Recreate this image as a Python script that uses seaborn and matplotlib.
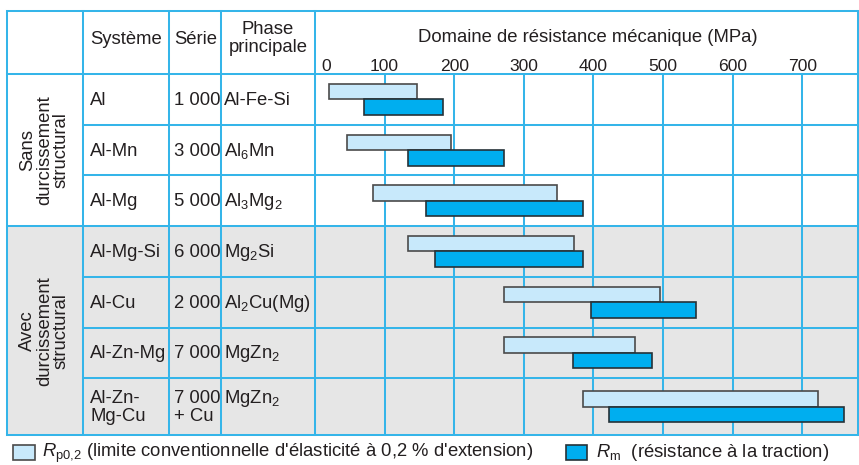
import numpy as np
import pandas as pd
import matplotlib
matplotlib.use("Agg")
import matplotlib.pyplot as plt
import seaborn as sns
from matplotlib.patches import Rectangle
from matplotlib.transforms import ScaledTranslation

# ---------------- data ----------------
systems = ["Al", "Al-Mn", "Al-Mg", "Al-Mg-Si", "Al-Cu", "Al-Zn-Mg", "Al-Zn-\nMg-Cu"]
series = ["1 000", "3 000", "5 000", "6 000", "2 000", "7 000", "7 000\n+ Cu"]
phases = ["Al-Fe-Si",
          r"Al$_\mathregular{6}$Mn",
          r"Al$_\mathregular{3}$Mg$_\mathregular{2}$",
          r"Mg$_\mathregular{2}$Si",
          r"Al$_\mathregular{2}$Cu(Mg)",
          r"MgZn$_\mathregular{2}$",
          r"MgZn$_\mathregular{2}$"]
groups = ["Sans\ndurcissement\nstructural", "Avec\ndurcissement\nstructural"]
group_sizes = [3, 4]
rp_min = [20, 46, 84, 134, 272, 272, 385]
rp_max = [146, 196, 347, 372, 496, 459, 722]
rm_min = [71, 134, 159, 172, 396, 371, 423]
rm_max = [184, 272, 385, 385, 547, 484, 760]
ticks = [0, 100, 200, 300, 400, 500, 600, 700]
headers = ["Système", "Série", "Phase\nprincipale"]
axis_title = "Domaine de résistance mécanique (MPa)"
legend_labels = [r"$\mathit{R}_\mathregular{p0{,}2}$ (limite conventionnelle d'élasticité à 0,2 % d'extension)",
                 r"$\mathit{R}_\mathregular{m}$  (résistance à la traction)"]

# ---------------- style ----------------
sns.set_theme(style="white")
plt.rcParams['font.family'] = ['Liberation Sans', 'DejaVu Sans']
plt.rcParams['mathtext.fontset'] = 'custom'
plt.rcParams['mathtext.rm'] = 'Liberation Sans'
plt.rcParams['mathtext.it'] = 'Liberation Sans:italic'
plt.rcParams['mathtext.bf'] = 'Liberation Sans:bold'

TXT = '#231f20'
LINE = '#35b5e9'
GRAY = '#e6e6e6'
RP_FILL, RP_EDGE = '#c8e9fb', '#4a4a4a'
RM_FILL, RM_EDGE = '#00aeef', '#263238'
FS = 13.3
LW = 1.45

W, H = 859, 465
X_LEFT, X_C1, X_C2, X_C3, X_PLOT, X_RIGHT = 7.3, 83, 169.3, 221.3, 315, 858
Y_TOP, Y_HEAD = 11, 74
ROW_H, ROW_H2 = 50.7, 57.0
XMAX = 780

row_heights = [ROW_H2 if "\n" in s else ROW_H for s in systems]
edges = Y_HEAD + np.concatenate([[0], np.cumsum(row_heights)])
centers = (edges[:-1] + edges[1:]) / 2
Y_BOT = edges[-1]

fig = plt.figure(figsize=(W / 100, H / 100), dpi=100)
fig.patch.set_facecolor('white')

# overlay axes in pixel coordinates for the table part
ov = fig.add_axes([0, 0, 1, 1], zorder=0)
ov.set_xlim(0, W)
ov.set_ylim(H, 0)
ov.axis('off')

# group shading + group labels
gstart = 0
for gi, n in enumerate(group_sizes):
    y0, y1 = edges[gstart], edges[gstart + n]
    if gi == 1:
        ov.add_patch(Rectangle((X_LEFT, y0), X_RIGHT - X_LEFT, y1 - y0,
                               facecolor=GRAY, edgecolor='none', zorder=0))
    ov.text(44.5, (y0 + y1) / 2, groups[gi], rotation=90, ha='center', va='center',
            ma='center', fontsize=FS, color=TXT, linespacing=0.97)
    gstart += n

# table lines
lk = dict(color=LINE, lw=LW, solid_capstyle='projecting', zorder=2)
ov.plot([X_LEFT, X_RIGHT], [Y_TOP, Y_TOP], **lk)
ov.plot([X_LEFT, X_RIGHT], [Y_HEAD, Y_HEAD], **lk)
gb = np.cumsum(group_sizes)
for i, y in enumerate(edges[1:], start=1):
    if i in gb:
        ov.plot([X_LEFT, X_RIGHT], [y, y], **lk)
    else:
        ov.plot([X_C1, X_RIGHT], [y, y], **lk)
for x in [X_LEFT, X_C1, X_C2, X_C3, X_PLOT, X_RIGHT]:
    ov.plot([x, x], [Y_TOP, Y_BOT], **lk)

# header texts
ov.text(90, 44, headers[0], ha='left', va='baseline', fontsize=FS, color=TXT)
ov.text(174, 44, headers[1], ha='left', va='baseline', fontsize=FS, color=TXT)
ov.text(268, 38.5, headers[2], ha='center', va='center', ma='center',
        fontsize=FS, color=TXT, linespacing=1.0)
ov.text((X_PLOT + X_RIGHT) / 2 + 1, 41.5, axis_title, ha='center', va='baseline',
        fontsize=FS, color=TXT)

# row texts
LSP = 18.5
for i in range(len(systems)):
    c = centers[i]
    for x, txt in [(90, systems[i]), (174, series[i])]:
        lines = txt.split("\n")
        n = len(lines)
        for k, ln in enumerate(lines):
            yb = c + 5.5 + (k - (n - 1) / 2) * LSP
            ov.text(x, yb, ln, ha='left', va='baseline', fontsize=FS, color=TXT)
    n = len(systems[i].split("\n"))
    ov.text(224, c + 5.5 - (n - 1) / 2 * LSP, phases[i], ha='left', va='baseline',
            fontsize=FS, color=TXT)

# legend
ov.add_patch(Rectangle((12.7, 445), 22, 15, facecolor=RP_FILL, edgecolor=RP_EDGE, lw=1.2))
ov.text(42.5, 457, legend_labels[0], ha='left', va='baseline', fontsize=FS, color=TXT)
ov.add_patch(Rectangle((565.5, 445), 21, 15, facecolor=RM_FILL, edgecolor=RM_EDGE, lw=1.2))
ov.text(595.5, 457, legend_labels[1], ha='left', va='baseline', fontsize=FS, color=TXT)

# ---------------- bar axes ----------------
ax = fig.add_axes([X_PLOT / W, (H - Y_BOT) / H, (X_RIGHT - X_PLOT) / W, (Y_BOT - Y_HEAD) / H],
                  zorder=1)
ax.set_facecolor('none')
ax.set_xlim(0, XMAX)
ax.set_ylim(Y_BOT - Y_HEAD, 0)
ycent = centers - Y_HEAD
BH = 15.5
rp_w = np.array(rp_max) - np.array(rp_min)
rm_w = np.array(rm_max) - np.array(rm_min)
ax.barh(ycent - BH / 2, rp_w, left=rp_min, height=BH, color=RP_FILL,
        edgecolor=RP_EDGE, linewidth=1.2, zorder=3)
ax.barh(ycent + BH / 2, rm_w, left=rm_min, height=BH, color=RM_FILL,
        edgecolor=RM_EDGE, linewidth=1.2, zorder=3)
ax.set_xticks(ticks)
ax.set_yticks([])
ax.xaxis.tick_top()
ax.tick_params(axis='x', length=0, pad=0.3, labelsize=12.6, colors=TXT)
ax.grid(axis='x', color=LINE, lw=LW)
ax.set_axisbelow(True)
for s in ax.spines.values():
    s.set_visible(False)
lab0 = ax.xaxis.get_major_ticks()[0].label2
lab0.set_transform(lab0.get_transform() + ScaledTranslation(0.11, 0, fig.dpi_scale_trans))

fig.savefig("out.png", dpi=100, facecolor='white')
